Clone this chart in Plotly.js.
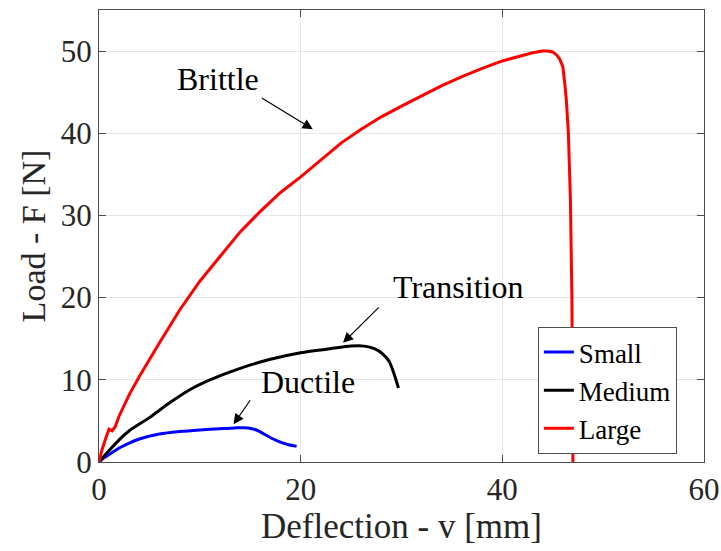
<!DOCTYPE html>
<html>
<head>
<meta charset="utf-8">
<script src="https://cdn.plot.ly/plotly-3.0.1.min.js"></script>
<style>html,body{margin:0;padding:0;background:#fff;}#chart{width:721px;height:551px;}</style>
</head>
<body>
<div id="chart"></div>
<script>
// Small specimen (blue)
var smallX = [0, 0.5, 1, 2, 3, 4, 6, 8, 10, 12, 13.5, 14.8, 15.8, 16.8, 17.8, 18.8, 19.6];
var smallY = [0, 0.5, 0.9, 1.7, 2.3, 2.8, 3.4, 3.7, 3.9, 4.05, 4.15, 4.15, 3.8, 3.1, 2.5, 2.1, 1.9];
// Medium specimen (black)
var mediumX = [0, 1, 2, 3, 5, 7, 9, 11, 14, 17, 20, 23, 25, 26.3, 27.3, 28.1, 28.8, 29.3, 29.7];
var mediumY = [0, 1.4, 2.7, 3.8, 5.4, 7.2, 8.8, 10.0, 11.4, 12.5, 13.3, 13.8, 14.1, 14.1, 13.8, 13.2, 12.2, 10.6, 9.0];
// Large specimen (red)
var largeX = [0, 0.3, 0.7, 1.0, 1.3, 1.6, 2, 3, 4, 5, 6, 8, 10, 12, 14, 16, 18, 20, 22, 24, 26, 28, 30, 32, 34, 36, 38, 40, 42, 43, 44, 44.5, 45.0, 45.4, 45.7, 46.0, 46.2, 46.35, 46.55, 46.75, 46.9, 47.0, 47.0];
var largeY = [0, 1.5, 3, 4, 3.8, 4.3, 5.6, 8.2, 10.4, 12.5, 14.5, 18.5, 22, 25, 28, 30.5, 32.8, 34.7, 36.8, 38.8, 40.5, 42, 43.3, 44.6, 45.8, 46.9, 47.9, 48.8, 49.5, 49.8, 50, 50, 49.9, 49.5, 49.0, 48.1, 46, 44, 40, 32, 20, 5, 0];

var seriesNames = ['Small', 'Medium', 'Large'];
var xTicks = [0, 20, 40, 60];
var yTicks = [0, 10, 20, 30, 40, 50];

// Annotation labels and arrows (tip and tail in data units)
var labelText = ['Brittle', 'Transition', 'Ductile'];
var labelX = [11.76, 35.6, 20.7];
var labelY = [46.6, 21.3, 9.7];
var arrowTipX = [21.2, 24.2, 13.35];
var arrowTipY = [40.5, 14.5, 4.6];
var arrowTailX = [16.0, 27.9, 15.1];
var arrowTailY = [44.4, 19.0, 7.7];

var serif = 'Liberation Serif';

var traces = [
  {x: smallX, y: smallY, name: seriesNames[0], mode: 'lines', line: {color: '#0000ff', width: 3, shape: 'spline', smoothing: 0.6}},
  {x: mediumX, y: mediumY, name: seriesNames[1], mode: 'lines', line: {color: '#000000', width: 3, shape: 'spline', smoothing: 0.6}},
  {x: largeX, y: largeY, name: seriesNames[2], mode: 'lines', line: {color: '#ff0000', width: 3}}
];

var annotations = [];
for (var i = 0; i < labelText.length; i++) {
  annotations.push({x: labelX[i], y: labelY[i], xref: 'x', yref: 'y', text: labelText[i], showarrow: false,
    font: {family: serif, size: 32, color: '#000'}, xanchor: 'center', yanchor: 'middle'});
  annotations.push({x: arrowTipX[i], y: arrowTipY[i], xref: 'x', yref: 'y', ax: arrowTailX[i], ay: arrowTailY[i],
    axref: 'x', ayref: 'y', text: '', showarrow: true, arrowhead: 2, arrowsize: 1.7, arrowwidth: 1.2, arrowcolor: '#000'});
}

var axisCommon = {
  showline: true, mirror: 'ticks', linecolor: '#4d4d4d', linewidth: 1,
  ticks: 'inside', ticklen: 7, tickcolor: '#4d4d4d', tickwidth: 1,
  showgrid: true, gridcolor: '#e6e6e6', gridwidth: 1, zeroline: false,
  tickfont: {family: serif, size: 31, color: '#262626'}
};

var layout = {
  width: 721, height: 551,
  margin: {l: 99, r: 17, t: 10, b: 89},
  paper_bgcolor: '#fff', plot_bgcolor: '#fff',
  showlegend: true,
  legend: {x: 0.7254, y: 0.2987, xanchor: 'left', yanchor: 'top', bordercolor: '#4d4d4d', borderwidth: 1,
    font: {family: serif, size: 27}},
  xaxis: Object.assign({}, axisCommon, {range: [0, 60], tickvals: xTicks, ticktext: xTicks.map(String),
    title: {text: 'Deflection - v [mm]', font: {family: serif, size: 35, color: '#262626'}, standoff: 6}}),
  yaxis: Object.assign({}, axisCommon, {range: [0, 55], tickvals: yTicks, ticktext: yTicks.map(String),
    title: {text: 'Load - F [N]', font: {family: serif, size: 34, color: '#262626'}, standoff: 4}}),
  annotations: annotations
};

Plotly.newPlot('chart', traces, layout, {displayModeBar: false}).then(function () {
  var els = document.querySelectorAll('#chart .legendtext');
  for (var k = 0; k < els.length; k++) {
    els[k].style.setProperty('font-family', "'Liberation Serif', 'Times New Roman', serif", 'important');
    els[k].style.setProperty('fill', '#000');
  }
});
</script>
</body>
</html>
